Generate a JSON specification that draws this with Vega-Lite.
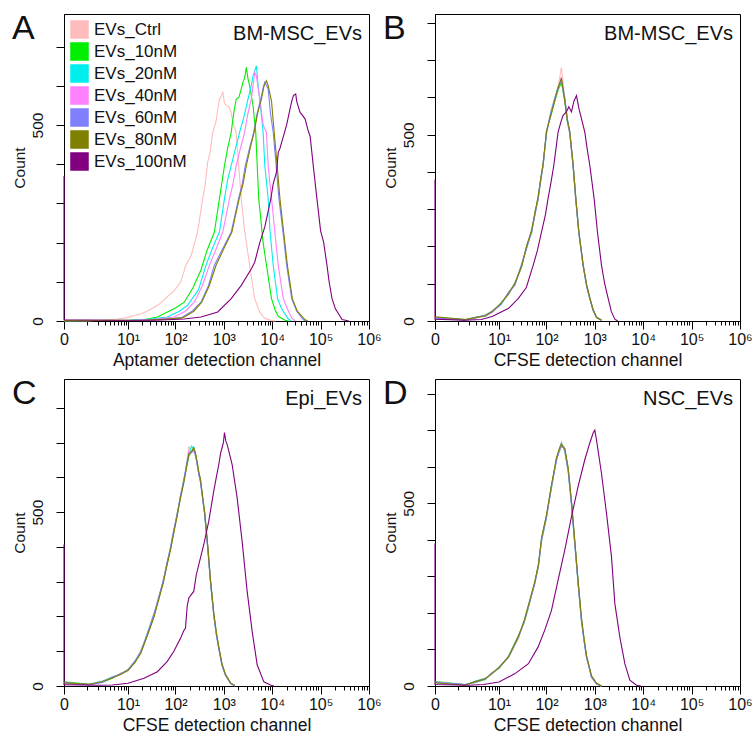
{
"$schema": "https://vega.github.io/schema/vega-lite/v6.json",
"background": "white",
"padding": {"left": 11, "top": 11, "right": 5, "bottom": 5},
"columns": 2,
"spacing": {"row": 58, "column": 66},
"bounds": "flush",
"resolve": {"scale": {"color": "independent"}, "legend": {"color": "independent"}},
"config": {
  "font": "Liberation Sans",
  "view": {"stroke": "#000", "strokeWidth": 1},
  "axis": {"domainColor": "#000", "tickColor": "#000", "labelColor": "#111", "titleColor": "#111", "grid": false, "titleFontWeight": "normal", "titleFont": "Liberation Sans", "labelFont": "Liberation Sans Narrow, Liberation Sans, sans-serif", "labelFlush": false, "labelOverlap": false},
  "axisX": {"labelFontSize": 16, "labelPadding": 2, "titleFontSize": 17.5, "titlePadding": 4},
  "axisY": {"labelFontSize": 15.5, "labelAngle": -90, "tickSize": 8, "labelPadding": 11, "titleFontSize": 15.5, "titlePadding": 3},
  "title": {"fontSize": 34, "fontWeight": "normal", "anchor": "start", "frame": "bounds", "color": "#111", "offset": 0, "dy": 36, "font": "Liberation Sans"}
},
"datasets": {
"A": [
{"s":"Ctrl","x":0,"y":2},{"s":"Ctrl","x":1,"y":1},{"s":"Ctrl","x":2.4,"y":2},{"s":"Ctrl","x":5.8,"y":5},{"s":"Ctrl","x":9,"y":8},{"s":"Ctrl","x":13.8,"y":14},{"s":"Ctrl","x":20,"y":19},{"s":"Ctrl","x":30.6,"y":30},{"s":"Ctrl","x":45,"y":42},{"s":"Ctrl","x":68,"y":62},{"s":"Ctrl","x":95,"y":78},{"s":"Ctrl","x":129,"y":100},{"s":"Ctrl","x":164,"y":142},{"s":"Ctrl","x":209,"y":165},{"s":"Ctrl","x":250,"y":200},{"s":"Ctrl","x":287,"y":227},{"s":"Ctrl","x":330,"y":275},{"s":"Ctrl","x":365,"y":312},{"s":"Ctrl","x":410,"y":345},{"s":"Ctrl","x":464,"y":405},{"s":"Ctrl","x":520,"y":430},{"s":"Ctrl","x":590,"y":481},{"s":"Ctrl","x":692,"y":510},{"s":"Ctrl","x":750,"y":540},{"s":"Ctrl","x":813,"y":566},{"s":"Ctrl","x":880,"y":572},{"s":"Ctrl","x":953,"y":585},{"s":"Ctrl","x":1030,"y":556},{"s":"Ctrl","x":1119,"y":550},{"s":"Ctrl","x":1313,"y":545},{"s":"Ctrl","x":1422,"y":530},{"s":"Ctrl","x":1580,"y":500},{"s":"Ctrl","x":1807,"y":481},{"s":"Ctrl","x":2020,"y":400},{"s":"Ctrl","x":2297,"y":312},{"s":"Ctrl","x":2695,"y":230},{"s":"Ctrl","x":3050,"y":185},{"s":"Ctrl","x":3426,"y":142},{"s":"Ctrl","x":3900,"y":95},{"s":"Ctrl","x":4356,"y":57},{"s":"Ctrl","x":5540,"y":22},{"s":"Ctrl","x":7041,"y":7},{"s":"Ctrl","x":9690,"y":1},{"s":"Ctrl","x":12000,"y":0},
{"s":"10nM","x":0,"y":1},{"s":"10nM","x":10,"y":2},{"s":"10nM","x":22,"y":3},{"s":"10nM","x":42,"y":10},{"s":"10nM","x":68,"y":23},{"s":"10nM","x":100,"y":33},{"s":"10nM","x":152,"y":48},{"s":"10nM","x":230,"y":85},{"s":"10nM","x":337,"y":130},{"s":"10nM","x":450,"y":180},{"s":"10nM","x":639,"y":227},{"s":"10nM","x":813,"y":312},{"s":"10nM","x":1032,"y":396},{"s":"10nM","x":1200,"y":440},{"s":"10nM","x":1422,"y":481},{"s":"10nM","x":1600,"y":530},{"s":"10nM","x":1807,"y":566},{"s":"10nM","x":2050,"y":570},{"s":"10nM","x":2297,"y":592},{"s":"10nM","x":2500,"y":610},{"s":"10nM","x":2695,"y":620},{"s":"10nM","x":2920,"y":647},{"s":"10nM","x":3162,"y":618},{"s":"10nM","x":3426,"y":600},{"s":"10nM","x":4020,"y":549},{"s":"10nM","x":4570,"y":481},{"s":"10nM","x":5270,"y":312},{"s":"10nM","x":6500,"y":200},{"s":"10nM","x":7620,"y":142},{"s":"10nM","x":9690,"y":57},{"s":"10nM","x":11500,"y":28},{"s":"10nM","x":13340,"y":12},{"s":"10nM","x":18370,"y":2},{"s":"10nM","x":22000,"y":0},
{"s":"20nM","x":0,"y":1},{"s":"20nM","x":12,"y":2},{"s":"20nM","x":30,"y":5},{"s":"20nM","x":68,"y":10},{"s":"20nM","x":120,"y":25},{"s":"20nM","x":178,"y":40},{"s":"20nM","x":300,"y":80},{"s":"20nM","x":428,"y":142},{"s":"20nM","x":600,"y":190},{"s":"20nM","x":813,"y":227},{"s":"20nM","x":1032,"y":312},{"s":"20nM","x":1200,"y":360},{"s":"20nM","x":1422,"y":396},{"s":"20nM","x":1750,"y":440},{"s":"20nM","x":2120,"y":481},{"s":"20nM","x":2600,"y":520},{"s":"20nM","x":3162,"y":566},{"s":"20nM","x":3700,"y":600},{"s":"20nM","x":4020,"y":625},{"s":"20nM","x":4720,"y":651},{"s":"20nM","x":5113,"y":600},{"s":"20nM","x":5540,"y":566},{"s":"20nM","x":6500,"y":481},{"s":"20nM","x":7041,"y":396},{"s":"20nM","x":8263,"y":312},{"s":"20nM","x":9000,"y":230},{"s":"20nM","x":10500,"y":142},{"s":"20nM","x":12900,"y":57},{"s":"20nM","x":15650,"y":31},{"s":"20nM","x":21550,"y":5},{"s":"20nM","x":25000,"y":0},
{"s":"40nM","x":0,"y":1},{"s":"40nM","x":15,"y":2},{"s":"40nM","x":40,"y":5},{"s":"40nM","x":94,"y":10},{"s":"40nM","x":160,"y":25},{"s":"40nM","x":245,"y":48},{"s":"40nM","x":360,"y":90},{"s":"40nM","x":502,"y":142},{"s":"40nM","x":700,"y":185},{"s":"40nM","x":953,"y":227},{"s":"40nM","x":1313,"y":312},{"s":"40nM","x":1550,"y":350},{"s":"40nM","x":1807,"y":396},{"s":"40nM","x":2200,"y":440},{"s":"40nM","x":2695,"y":481},{"s":"40nM","x":3162,"y":530},{"s":"40nM","x":3710,"y":566},{"s":"40nM","x":4020,"y":600},{"s":"40nM","x":4356,"y":634},{"s":"40nM","x":4720,"y":625},{"s":"40nM","x":5540,"y":566},{"s":"40nM","x":6500,"y":500},{"s":"40nM","x":7620,"y":481},{"s":"40nM","x":8263,"y":396},{"s":"40nM","x":9690,"y":312},{"s":"40nM","x":11500,"y":220},{"s":"40nM","x":13340,"y":142},{"s":"40nM","x":16960,"y":57},{"s":"40nM","x":19900,"y":35},{"s":"40nM","x":25290,"y":8},{"s":"40nM","x":30000,"y":0},
{"s":"60nM","x":0,"y":1},{"s":"60nM","x":20,"y":2},{"s":"60nM","x":60,"y":5},{"s":"60nM","x":129,"y":8},{"s":"60nM","x":220,"y":25},{"s":"60nM","x":337,"y":48},{"s":"60nM","x":480,"y":90},{"s":"60nM","x":639,"y":142},{"s":"60nM","x":1000,"y":190},{"s":"60nM","x":1422,"y":227},{"s":"60nM","x":2020,"y":312},{"s":"60nM","x":2400,"y":350},{"s":"60nM","x":2780,"y":396},{"s":"60nM","x":3400,"y":440},{"s":"60nM","x":4150,"y":481},{"s":"60nM","x":4900,"y":530},{"s":"60nM","x":5810,"y":566},{"s":"60nM","x":6500,"y":595},{"s":"60nM","x":7041,"y":609},{"s":"60nM","x":8263,"y":592},{"s":"60nM","x":9200,"y":530},{"s":"60nM","x":10500,"y":481},{"s":"60nM","x":12000,"y":400},{"s":"60nM","x":13770,"y":312},{"s":"60nM","x":16960,"y":220},{"s":"60nM","x":19900,"y":142},{"s":"60nM","x":25290,"y":57},{"s":"60nM","x":32150,"y":25},{"s":"60nM","x":44000,"y":3},{"s":"60nM","x":50000,"y":0},
{"s":"80nM","x":0,"y":1},{"s":"80nM","x":22,"y":2},{"s":"80nM","x":65,"y":5},{"s":"80nM","x":140,"y":8},{"s":"80nM","x":240,"y":25},{"s":"80nM","x":350,"y":48},{"s":"80nM","x":500,"y":90},{"s":"80nM","x":692,"y":142},{"s":"80nM","x":1050,"y":190},{"s":"80nM","x":1470,"y":227},{"s":"80nM","x":2080,"y":312},{"s":"80nM","x":2500,"y":350},{"s":"80nM","x":2920,"y":396},{"s":"80nM","x":3500,"y":440},{"s":"80nM","x":4230,"y":481},{"s":"80nM","x":5000,"y":530},{"s":"80nM","x":6000,"y":566},{"s":"80nM","x":6800,"y":600},{"s":"80nM","x":7620,"y":613},{"s":"80nM","x":8263,"y":600},{"s":"80nM","x":9690,"y":560},{"s":"80nM","x":11000,"y":481},{"s":"80nM","x":12600,"y":400},{"s":"80nM","x":14450,"y":312},{"s":"80nM","x":17500,"y":220},{"s":"80nM","x":20600,"y":142},{"s":"80nM","x":26100,"y":57},{"s":"80nM","x":33000,"y":25},{"s":"80nM","x":47960,"y":3},{"s":"80nM","x":55000,"y":0},
{"s":"100nM","x":0,"y":370},{"s":"100nM","x":0,"y":3},{"s":"100nM","x":5,"y":2},{"s":"100nM","x":40,"y":2},{"s":"100nM","x":152,"y":5},{"s":"100nM","x":337,"y":10},{"s":"100nM","x":750,"y":23},{"s":"100nM","x":1422,"y":57},{"s":"100nM","x":2297,"y":91},{"s":"100nM","x":3712,"y":133},{"s":"100nM","x":4356,"y":150},{"s":"100nM","x":5540,"y":200},{"s":"100nM","x":7041,"y":240},{"s":"100nM","x":8263,"y":280},{"s":"100nM","x":9380,"y":312},{"s":"100nM","x":10500,"y":350},{"s":"100nM","x":12300,"y":380},{"s":"100nM","x":13340,"y":430},{"s":"100nM","x":14450,"y":440},{"s":"100nM","x":16960,"y":470},{"s":"100nM","x":19900,"y":500},{"s":"100nM","x":23350,"y":541},{"s":"100nM","x":25290,"y":560},{"s":"100nM","x":27400,"y":575},{"s":"100nM","x":30600,"y":579},{"s":"100nM","x":32150,"y":560},{"s":"100nM","x":35000,"y":545},{"s":"100nM","x":37730,"y":532},{"s":"100nM","x":42000,"y":525},{"s":"100nM","x":47960,"y":515},{"s":"100nM","x":54000,"y":490},{"s":"100nM","x":60950,"y":470},{"s":"100nM","x":70000,"y":400},{"s":"100nM","x":83900,"y":312},{"s":"100nM","x":100000,"y":230},{"s":"100nM","x":115500,"y":201},{"s":"100nM","x":135500,"y":142},{"s":"100nM","x":150000,"y":100},{"s":"100nM","x":172200,"y":57},{"s":"100nM","x":202200,"y":31},{"s":"100nM","x":278000,"y":4},{"s":"100nM","x":383000,"y":0}
],
"B": [
{"s":"Ctrl","x":0,"y":6},{"s":"Ctrl","x":1.65,"y":2},{"s":"Ctrl","x":2.96,"y":8},{"s":"Ctrl","x":5,"y":15},{"s":"Ctrl","x":7.1,"y":27},{"s":"Ctrl","x":11,"y":44},{"s":"Ctrl","x":16.1,"y":78},{"s":"Ctrl","x":22,"y":98},{"s":"Ctrl","x":30.4,"y":155},{"s":"Ctrl","x":39,"y":196},{"s":"Ctrl","x":49,"y":245},{"s":"Ctrl","x":58,"y":285},{"s":"Ctrl","x":67,"y":335},{"s":"Ctrl","x":76,"y":378},{"s":"Ctrl","x":85,"y":425},{"s":"Ctrl","x":100,"y":500},{"s":"Ctrl","x":120,"y":560},{"s":"Ctrl","x":149,"y":600},{"s":"Ctrl","x":175,"y":630},{"s":"Ctrl","x":204,"y":681},{"s":"Ctrl","x":239,"y":600},{"s":"Ctrl","x":270,"y":545},{"s":"Ctrl","x":304,"y":500},{"s":"Ctrl","x":356,"y":410},{"s":"Ctrl","x":404,"y":320},{"s":"Ctrl","x":467,"y":235},{"s":"Ctrl","x":574,"y":145},{"s":"Ctrl","x":680,"y":90},{"s":"Ctrl","x":788,"y":58},{"s":"Ctrl","x":920,"y":28},{"s":"Ctrl","x":1082,"y":9},{"s":"Ctrl","x":1374,"y":1},
{"s":"10nM","x":0,"y":10},{"s":"10nM","x":1.65,"y":4},{"s":"10nM","x":2.96,"y":10},{"s":"10nM","x":5,"y":13},{"s":"10nM","x":7.1,"y":24},{"s":"10nM","x":11,"y":47},{"s":"10nM","x":16.1,"y":72},{"s":"10nM","x":22,"y":103},{"s":"10nM","x":30.4,"y":146},{"s":"10nM","x":39,"y":205},{"s":"10nM","x":49,"y":236},{"s":"10nM","x":58,"y":295},{"s":"10nM","x":67,"y":325},{"s":"10nM","x":76,"y":385},{"s":"10nM","x":85,"y":415},{"s":"10nM","x":100,"y":512},{"s":"10nM","x":120,"y":545},{"s":"10nM","x":149,"y":590},{"s":"10nM","x":175,"y":620},{"s":"10nM","x":204,"y":640},{"s":"10nM","x":239,"y":590},{"s":"10nM","x":270,"y":535},{"s":"10nM","x":304,"y":505},{"s":"10nM","x":356,"y":420},{"s":"10nM","x":404,"y":332},{"s":"10nM","x":467,"y":242},{"s":"10nM","x":574,"y":152},{"s":"10nM","x":680,"y":97},{"s":"10nM","x":788,"y":63},{"s":"10nM","x":920,"y":31},{"s":"10nM","x":1082,"y":11},{"s":"10nM","x":1374,"y":2},
{"s":"20nM","x":0,"y":7},{"s":"20nM","x":1.65,"y":3},{"s":"20nM","x":2.96,"y":8},{"s":"20nM","x":5,"y":16},{"s":"20nM","x":7.1,"y":26},{"s":"20nM","x":11,"y":43},{"s":"20nM","x":16.1,"y":76},{"s":"20nM","x":22,"y":99},{"s":"20nM","x":30.4,"y":152},{"s":"20nM","x":39,"y":198},{"s":"20nM","x":49,"y":242},{"s":"20nM","x":58,"y":288},{"s":"20nM","x":67,"y":331},{"s":"20nM","x":76,"y":376},{"s":"20nM","x":85,"y":421},{"s":"20nM","x":100,"y":505},{"s":"20nM","x":120,"y":553},{"s":"20nM","x":149,"y":598},{"s":"20nM","x":175,"y":628},{"s":"20nM","x":204,"y":648},{"s":"20nM","x":239,"y":598},{"s":"20nM","x":270,"y":541},{"s":"20nM","x":304,"y":509},{"s":"20nM","x":356,"y":416},{"s":"20nM","x":404,"y":327},{"s":"20nM","x":467,"y":237},{"s":"20nM","x":574,"y":148},{"s":"20nM","x":680,"y":93},{"s":"20nM","x":788,"y":60},{"s":"20nM","x":920,"y":29},{"s":"20nM","x":1082,"y":10},{"s":"20nM","x":1374,"y":2},
{"s":"40nM","x":0,"y":9},{"s":"40nM","x":1.65,"y":2},{"s":"40nM","x":2.96,"y":9},{"s":"40nM","x":5,"y":14},{"s":"40nM","x":7.1,"y":23},{"s":"40nM","x":11,"y":46},{"s":"40nM","x":16.1,"y":74},{"s":"40nM","x":22,"y":101},{"s":"40nM","x":30.4,"y":149},{"s":"40nM","x":39,"y":202},{"s":"40nM","x":49,"y":240},{"s":"40nM","x":58,"y":292},{"s":"40nM","x":67,"y":327},{"s":"40nM","x":76,"y":382},{"s":"40nM","x":85,"y":416},{"s":"40nM","x":100,"y":509},{"s":"40nM","x":120,"y":548},{"s":"40nM","x":149,"y":594},{"s":"40nM","x":175,"y":623},{"s":"40nM","x":204,"y":655},{"s":"40nM","x":239,"y":594},{"s":"40nM","x":270,"y":538},{"s":"40nM","x":304,"y":503},{"s":"40nM","x":356,"y":419},{"s":"40nM","x":404,"y":330},{"s":"40nM","x":467,"y":240},{"s":"40nM","x":574,"y":151},{"s":"40nM","x":680,"y":96},{"s":"40nM","x":788,"y":62},{"s":"40nM","x":920,"y":30},{"s":"40nM","x":1082,"y":11},{"s":"40nM","x":1374,"y":1},
{"s":"60nM","x":0,"y":8},{"s":"60nM","x":1.65,"y":3},{"s":"60nM","x":2.96,"y":10},{"s":"60nM","x":5,"y":15},{"s":"60nM","x":7.1,"y":25},{"s":"60nM","x":11,"y":45},{"s":"60nM","x":16.1,"y":77},{"s":"60nM","x":22,"y":97},{"s":"60nM","x":30.4,"y":151},{"s":"60nM","x":39,"y":199},{"s":"60nM","x":49,"y":238},{"s":"60nM","x":58,"y":289},{"s":"60nM","x":67,"y":330},{"s":"60nM","x":76,"y":379},{"s":"60nM","x":85,"y":419},{"s":"60nM","x":100,"y":506},{"s":"60nM","x":120,"y":551},{"s":"60nM","x":149,"y":597},{"s":"60nM","x":175,"y":626},{"s":"60nM","x":204,"y":645},{"s":"60nM","x":239,"y":597},{"s":"60nM","x":270,"y":542},{"s":"60nM","x":304,"y":506},{"s":"60nM","x":356,"y":417},{"s":"60nM","x":404,"y":328},{"s":"60nM","x":467,"y":238},{"s":"60nM","x":574,"y":149},{"s":"60nM","x":680,"y":94},{"s":"60nM","x":788,"y":61},{"s":"60nM","x":920,"y":29},{"s":"60nM","x":1082,"y":10},{"s":"60nM","x":1374,"y":2},
{"s":"80nM","x":0,"y":11},{"s":"80nM","x":1.65,"y":4},{"s":"80nM","x":2.96,"y":9},{"s":"80nM","x":5,"y":14},{"s":"80nM","x":7.1,"y":26},{"s":"80nM","x":11,"y":48},{"s":"80nM","x":16.1,"y":73},{"s":"80nM","x":22,"y":102},{"s":"80nM","x":30.4,"y":147},{"s":"80nM","x":39,"y":203},{"s":"80nM","x":49,"y":244},{"s":"80nM","x":58,"y":293},{"s":"80nM","x":67,"y":333},{"s":"80nM","x":76,"y":381},{"s":"80nM","x":85,"y":422},{"s":"80nM","x":100,"y":508},{"s":"80nM","x":120,"y":547},{"s":"80nM","x":149,"y":593},{"s":"80nM","x":175,"y":627},{"s":"80nM","x":204,"y":652},{"s":"80nM","x":239,"y":593},{"s":"80nM","x":270,"y":539},{"s":"80nM","x":304,"y":508},{"s":"80nM","x":356,"y":421},{"s":"80nM","x":404,"y":331},{"s":"80nM","x":467,"y":241},{"s":"80nM","x":574,"y":150},{"s":"80nM","x":680,"y":95},{"s":"80nM","x":788,"y":62},{"s":"80nM","x":920,"y":31},{"s":"80nM","x":1082,"y":10},{"s":"80nM","x":1374,"y":2},
{"s":"100nM","x":0,"y":380},{"s":"100nM","x":0,"y":5},{"s":"100nM","x":1.5,"y":2},{"s":"100nM","x":4,"y":4},{"s":"100nM","x":7.1,"y":12},{"s":"100nM","x":16.1,"y":34},{"s":"100nM","x":25.9,"y":61},{"s":"100nM","x":38,"y":90},{"s":"100nM","x":53,"y":150},{"s":"100nM","x":65,"y":190},{"s":"100nM","x":78.9,"y":239},{"s":"100nM","x":95,"y":285},{"s":"100nM","x":108,"y":329},{"s":"100nM","x":125,"y":375},{"s":"100nM","x":142,"y":418},{"s":"100nM","x":160,"y":470},{"s":"100nM","x":174,"y":507},{"s":"100nM","x":200,"y":535},{"s":"100nM","x":221,"y":552},{"s":"100nM","x":259,"y":561},{"s":"100nM","x":290,"y":575},{"s":"100nM","x":329,"y":561},{"s":"100nM","x":370,"y":590},{"s":"100nM","x":418,"y":605},{"s":"100nM","x":470,"y":570},{"s":"100nM","x":530,"y":543},{"s":"100nM","x":621,"y":507},{"s":"100nM","x":700,"y":460},{"s":"100nM","x":788,"y":418},{"s":"100nM","x":968,"y":329},{"s":"100nM","x":1135,"y":239},{"s":"100nM","x":1374,"y":150},{"s":"100nM","x":1600,"y":100},{"s":"100nM","x":1888,"y":61},{"s":"100nM","x":2200,"y":25},{"s":"100nM","x":2593,"y":5},{"s":"100nM","x":3000,"y":0}
],
"C": [
{"s":"Ctrl","x":0,"y":8},{"s":"Ctrl","x":1.14,"y":3},{"s":"Ctrl","x":2.6,"y":13},{"s":"Ctrl","x":4.5,"y":27},{"s":"Ctrl","x":7,"y":33},{"s":"Ctrl","x":10,"y":48},{"s":"Ctrl","x":14,"y":72},{"s":"Ctrl","x":18.9,"y":96},{"s":"Ctrl","x":26,"y":152},{"s":"Ctrl","x":35.6,"y":210},{"s":"Ctrl","x":45,"y":250},{"s":"Ctrl","x":55.6,"y":305},{"s":"Ctrl","x":66,"y":345},{"s":"Ctrl","x":79,"y":400},{"s":"Ctrl","x":92,"y":450},{"s":"Ctrl","x":108,"y":490},{"s":"Ctrl","x":127,"y":550},{"s":"Ctrl","x":149,"y":588},{"s":"Ctrl","x":170,"y":640},{"s":"Ctrl","x":189,"y":690},{"s":"Ctrl","x":215,"y":670},{"s":"Ctrl","x":239,"y":676},{"s":"Ctrl","x":260,"y":660},{"s":"Ctrl","x":281,"y":645},{"s":"Ctrl","x":305,"y":605},{"s":"Ctrl","x":329,"y":585},{"s":"Ctrl","x":365,"y":545},{"s":"Ctrl","x":404,"y":490},{"s":"Ctrl","x":467,"y":392},{"s":"Ctrl","x":530,"y":298},{"s":"Ctrl","x":621,"y":200},{"s":"Ctrl","x":700,"y":147},{"s":"Ctrl","x":788,"y":106},{"s":"Ctrl","x":920,"y":58},{"s":"Ctrl","x":1082,"y":30},{"s":"Ctrl","x":1374,"y":7},{"s":"Ctrl","x":1700,"y":1},
{"s":"10nM","x":0,"y":12},{"s":"10nM","x":1.14,"y":5},{"s":"10nM","x":2.6,"y":11},{"s":"10nM","x":4.5,"y":22},{"s":"10nM","x":7,"y":37},{"s":"10nM","x":10,"y":45},{"s":"10nM","x":14,"y":68},{"s":"10nM","x":18.9,"y":102},{"s":"10nM","x":26,"y":147},{"s":"10nM","x":35.6,"y":200},{"s":"10nM","x":45,"y":258},{"s":"10nM","x":55.6,"y":298},{"s":"10nM","x":66,"y":352},{"s":"10nM","x":79,"y":395},{"s":"10nM","x":92,"y":442},{"s":"10nM","x":108,"y":496},{"s":"10nM","x":127,"y":540},{"s":"10nM","x":149,"y":594},{"s":"10nM","x":170,"y":630},{"s":"10nM","x":189,"y":660},{"s":"10nM","x":215,"y":675},{"s":"10nM","x":239,"y":684},{"s":"10nM","x":260,"y":668},{"s":"10nM","x":281,"y":636},{"s":"10nM","x":305,"y":612},{"s":"10nM","x":329,"y":594},{"s":"10nM","x":365,"y":538},{"s":"10nM","x":404,"y":496},{"s":"10nM","x":467,"y":400},{"s":"10nM","x":530,"y":305},{"s":"10nM","x":621,"y":208},{"s":"10nM","x":700,"y":152},{"s":"10nM","x":788,"y":111},{"s":"10nM","x":920,"y":62},{"s":"10nM","x":1082,"y":33},{"s":"10nM","x":1374,"y":9},{"s":"10nM","x":1700,"y":1},
{"s":"20nM","x":0,"y":9},{"s":"20nM","x":1.14,"y":4},{"s":"20nM","x":2.6,"y":14},{"s":"20nM","x":4.5,"y":26},{"s":"20nM","x":7,"y":34},{"s":"20nM","x":10,"y":47},{"s":"20nM","x":14,"y":71},{"s":"20nM","x":18.9,"y":98},{"s":"20nM","x":26,"y":153},{"s":"20nM","x":35.6,"y":207},{"s":"20nM","x":45,"y":253},{"s":"20nM","x":55.6,"y":303},{"s":"20nM","x":66,"y":348},{"s":"20nM","x":79,"y":399},{"s":"20nM","x":92,"y":447},{"s":"20nM","x":108,"y":491},{"s":"20nM","x":127,"y":547},{"s":"20nM","x":149,"y":592},{"s":"20nM","x":170,"y":637},{"s":"20nM","x":189,"y":668},{"s":"20nM","x":215,"y":690},{"s":"20nM","x":239,"y":682},{"s":"20nM","x":260,"y":664},{"s":"20nM","x":281,"y":642},{"s":"20nM","x":305,"y":608},{"s":"20nM","x":329,"y":588},{"s":"20nM","x":365,"y":542},{"s":"20nM","x":404,"y":491},{"s":"20nM","x":467,"y":395},{"s":"20nM","x":530,"y":300},{"s":"20nM","x":621,"y":204},{"s":"20nM","x":700,"y":149},{"s":"20nM","x":788,"y":108},{"s":"20nM","x":920,"y":59},{"s":"20nM","x":1082,"y":31},{"s":"20nM","x":1374,"y":8},{"s":"20nM","x":1700,"y":0},
{"s":"40nM","x":0,"y":11},{"s":"40nM","x":1.14,"y":3},{"s":"40nM","x":2.6,"y":12},{"s":"40nM","x":4.5,"y":24},{"s":"40nM","x":7,"y":36},{"s":"40nM","x":10,"y":44},{"s":"40nM","x":14,"y":69},{"s":"40nM","x":18.9,"y":100},{"s":"40nM","x":26,"y":148},{"s":"40nM","x":35.6,"y":203},{"s":"40nM","x":45,"y":256},{"s":"40nM","x":55.6,"y":300},{"s":"40nM","x":66,"y":351},{"s":"40nM","x":79,"y":396},{"s":"40nM","x":92,"y":444},{"s":"40nM","x":108,"y":494},{"s":"40nM","x":127,"y":543},{"s":"40nM","x":149,"y":589},{"s":"40nM","x":170,"y":633},{"s":"40nM","x":189,"y":675},{"s":"40nM","x":215,"y":671},{"s":"40nM","x":239,"y":678},{"s":"40nM","x":260,"y":667},{"s":"40nM","x":281,"y":638},{"s":"40nM","x":305,"y":611},{"s":"40nM","x":329,"y":591},{"s":"40nM","x":365,"y":539},{"s":"40nM","x":404,"y":494},{"s":"40nM","x":467,"y":398},{"s":"40nM","x":530,"y":303},{"s":"40nM","x":621,"y":206},{"s":"40nM","x":700,"y":151},{"s":"40nM","x":788,"y":110},{"s":"40nM","x":920,"y":61},{"s":"40nM","x":1082,"y":32},{"s":"40nM","x":1374,"y":8},{"s":"40nM","x":1700,"y":1},
{"s":"60nM","x":0,"y":10},{"s":"60nM","x":1.14,"y":4},{"s":"60nM","x":2.6,"y":10},{"s":"60nM","x":4.5,"y":25},{"s":"60nM","x":7,"y":35},{"s":"60nM","x":10,"y":46},{"s":"60nM","x":14,"y":70},{"s":"60nM","x":18.9,"y":97},{"s":"60nM","x":26,"y":151},{"s":"60nM","x":35.6,"y":206},{"s":"60nM","x":45,"y":254},{"s":"60nM","x":55.6,"y":302},{"s":"60nM","x":66,"y":349},{"s":"60nM","x":79,"y":398},{"s":"60nM","x":92,"y":446},{"s":"60nM","x":108,"y":492},{"s":"60nM","x":127,"y":546},{"s":"60nM","x":149,"y":591},{"s":"60nM","x":170,"y":636},{"s":"60nM","x":189,"y":664},{"s":"60nM","x":215,"y":673},{"s":"60nM","x":239,"y":680},{"s":"60nM","x":260,"y":665},{"s":"60nM","x":281,"y":641},{"s":"60nM","x":305,"y":609},{"s":"60nM","x":329,"y":589},{"s":"60nM","x":365,"y":541},{"s":"60nM","x":404,"y":492},{"s":"60nM","x":467,"y":396},{"s":"60nM","x":530,"y":301},{"s":"60nM","x":621,"y":205},{"s":"60nM","x":700,"y":150},{"s":"60nM","x":788,"y":109},{"s":"60nM","x":920,"y":60},{"s":"60nM","x":1082,"y":32},{"s":"60nM","x":1374,"y":8},{"s":"60nM","x":1700,"y":1},
{"s":"80nM","x":0,"y":9},{"s":"80nM","x":1.14,"y":5},{"s":"80nM","x":2.6,"y":13},{"s":"80nM","x":4.5,"y":23},{"s":"80nM","x":7,"y":34},{"s":"80nM","x":10,"y":45},{"s":"80nM","x":14,"y":67},{"s":"80nM","x":18.9,"y":95},{"s":"80nM","x":26,"y":146},{"s":"80nM","x":35.6,"y":198},{"s":"80nM","x":45,"y":250},{"s":"80nM","x":55.6,"y":296},{"s":"80nM","x":66,"y":345},{"s":"80nM","x":79,"y":392},{"s":"80nM","x":92,"y":440},{"s":"80nM","x":108,"y":488},{"s":"80nM","x":127,"y":541},{"s":"80nM","x":149,"y":585},{"s":"80nM","x":170,"y":630},{"s":"80nM","x":189,"y":668},{"s":"80nM","x":215,"y":674},{"s":"80nM","x":239,"y":686},{"s":"80nM","x":260,"y":670},{"s":"80nM","x":281,"y":645},{"s":"80nM","x":305,"y":615},{"s":"80nM","x":329,"y":595},{"s":"80nM","x":365,"y":545},{"s":"80nM","x":404,"y":498},{"s":"80nM","x":467,"y":402},{"s":"80nM","x":530,"y":306},{"s":"80nM","x":621,"y":210},{"s":"80nM","x":700,"y":155},{"s":"80nM","x":788,"y":112},{"s":"80nM","x":920,"y":63},{"s":"80nM","x":1082,"y":34},{"s":"80nM","x":1374,"y":9},{"s":"80nM","x":1700,"y":1},
{"s":"100nM","x":0,"y":407},{"s":"100nM","x":0,"y":4},{"s":"100nM","x":2,"y":2},{"s":"100nM","x":4.5,"y":3},{"s":"100nM","x":10,"y":8},{"s":"100nM","x":22,"y":22},{"s":"100nM","x":42,"y":41},{"s":"100nM","x":67,"y":70},{"s":"100nM","x":92,"y":99},{"s":"100nM","x":127,"y":137},{"s":"100nM","x":150,"y":160},{"s":"100nM","x":161,"y":166},{"s":"100nM","x":175,"y":230},{"s":"100nM","x":189,"y":253},{"s":"100nM","x":239,"y":272},{"s":"100nM","x":270,"y":320},{"s":"100nM","x":304,"y":349},{"s":"100nM","x":386,"y":407},{"s":"100nM","x":489,"y":474},{"s":"100nM","x":621,"y":561},{"s":"100nM","x":700,"y":600},{"s":"100nM","x":788,"y":637},{"s":"100nM","x":860,"y":670},{"s":"100nM","x":924,"y":686},{"s":"100nM","x":980,"y":700},{"s":"100nM","x":1033,"y":729},{"s":"100nM","x":1100,"y":705},{"s":"100nM","x":1173,"y":695},{"s":"100nM","x":1300,"y":670},{"s":"100nM","x":1487,"y":637},{"s":"100nM","x":1888,"y":541},{"s":"100nM","x":2393,"y":416},{"s":"100nM","x":3040,"y":272},{"s":"100nM","x":3857,"y":157},{"s":"100nM","x":4895,"y":61},{"s":"100nM","x":6724,"y":12},{"s":"100nM","x":9237,"y":3},{"s":"100nM","x":10820,"y":0}
],
"D": [
{"s":"Ctrl","x":0,"y":8},{"s":"Ctrl","x":1.58,"y":2},{"s":"Ctrl","x":2.85,"y":12},{"s":"Ctrl","x":5,"y":22},{"s":"Ctrl","x":6.9,"y":32},{"s":"Ctrl","x":10,"y":52},{"s":"Ctrl","x":16,"y":78},{"s":"Ctrl","x":26,"y":130},{"s":"Ctrl","x":34,"y":178},{"s":"Ctrl","x":42,"y":220},{"s":"Ctrl","x":57,"y":278},{"s":"Ctrl","x":68,"y":335},{"s":"Ctrl","x":79,"y":395},{"s":"Ctrl","x":100,"y":460},{"s":"Ctrl","x":127,"y":550},{"s":"Ctrl","x":161,"y":615},{"s":"Ctrl","x":185,"y":650},{"s":"Ctrl","x":204,"y":668},{"s":"Ctrl","x":239,"y":640},{"s":"Ctrl","x":281,"y":585},{"s":"Ctrl","x":329,"y":495},{"s":"Ctrl","x":386,"y":385},{"s":"Ctrl","x":452,"y":276},{"s":"Ctrl","x":530,"y":176},{"s":"Ctrl","x":600,"y":122},{"s":"Ctrl","x":673,"y":78},{"s":"Ctrl","x":854,"y":23},{"s":"Ctrl","x":1082,"y":5},{"s":"Ctrl","x":1374,"y":0},
{"s":"10nM","x":0,"y":12},{"s":"10nM","x":1.58,"y":4},{"s":"10nM","x":2.85,"y":10},{"s":"10nM","x":5,"y":18},{"s":"10nM","x":6.9,"y":36},{"s":"10nM","x":10,"y":48},{"s":"10nM","x":16,"y":82},{"s":"10nM","x":26,"y":138},{"s":"10nM","x":34,"y":172},{"s":"10nM","x":42,"y":214},{"s":"10nM","x":57,"y":284},{"s":"10nM","x":68,"y":326},{"s":"10nM","x":79,"y":404},{"s":"10nM","x":100,"y":466},{"s":"10nM","x":127,"y":542},{"s":"10nM","x":161,"y":622},{"s":"10nM","x":185,"y":642},{"s":"10nM","x":204,"y":655},{"s":"10nM","x":239,"y":650},{"s":"10nM","x":281,"y":596},{"s":"10nM","x":329,"y":505},{"s":"10nM","x":386,"y":395},{"s":"10nM","x":452,"y":286},{"s":"10nM","x":530,"y":184},{"s":"10nM","x":600,"y":128},{"s":"10nM","x":673,"y":82},{"s":"10nM","x":854,"y":27},{"s":"10nM","x":1082,"y":7},{"s":"10nM","x":1374,"y":0},
{"s":"20nM","x":0,"y":9},{"s":"20nM","x":1.58,"y":3},{"s":"20nM","x":2.85,"y":13},{"s":"20nM","x":5,"y":21},{"s":"20nM","x":6.9,"y":33},{"s":"20nM","x":10,"y":51},{"s":"20nM","x":16,"y":79},{"s":"20nM","x":26,"y":133},{"s":"20nM","x":34,"y":176},{"s":"20nM","x":42,"y":219},{"s":"20nM","x":57,"y":280},{"s":"20nM","x":68,"y":332},{"s":"20nM","x":79,"y":398},{"s":"20nM","x":100,"y":462},{"s":"20nM","x":127,"y":548},{"s":"20nM","x":161,"y":617},{"s":"20nM","x":185,"y":648},{"s":"20nM","x":204,"y":664},{"s":"20nM","x":239,"y":644},{"s":"20nM","x":281,"y":589},{"s":"20nM","x":329,"y":498},{"s":"20nM","x":386,"y":388},{"s":"20nM","x":452,"y":279},{"s":"20nM","x":530,"y":178},{"s":"20nM","x":600,"y":124},{"s":"20nM","x":673,"y":79},{"s":"20nM","x":854,"y":24},{"s":"20nM","x":1082,"y":6},{"s":"20nM","x":1374,"y":0},
{"s":"40nM","x":0,"y":11},{"s":"40nM","x":1.58,"y":3},{"s":"40nM","x":2.85,"y":11},{"s":"40nM","x":5,"y":19},{"s":"40nM","x":6.9,"y":35},{"s":"40nM","x":10,"y":49},{"s":"40nM","x":16,"y":81},{"s":"40nM","x":26,"y":135},{"s":"40nM","x":34,"y":174},{"s":"40nM","x":42,"y":216},{"s":"40nM","x":57,"y":282},{"s":"40nM","x":68,"y":328},{"s":"40nM","x":79,"y":402},{"s":"40nM","x":100,"y":465},{"s":"40nM","x":127,"y":544},{"s":"40nM","x":161,"y":620},{"s":"40nM","x":185,"y":643},{"s":"40nM","x":204,"y":658},{"s":"40nM","x":239,"y":648},{"s":"40nM","x":281,"y":593},{"s":"40nM","x":329,"y":502},{"s":"40nM","x":386,"y":392},{"s":"40nM","x":452,"y":283},{"s":"40nM","x":530,"y":182},{"s":"40nM","x":600,"y":126},{"s":"40nM","x":673,"y":81},{"s":"40nM","x":854,"y":26},{"s":"40nM","x":1082,"y":6},{"s":"40nM","x":1374,"y":0},
{"s":"60nM","x":0,"y":10},{"s":"60nM","x":1.58,"y":4},{"s":"60nM","x":2.85,"y":10},{"s":"60nM","x":5,"y":20},{"s":"60nM","x":6.9,"y":34},{"s":"60nM","x":10,"y":50},{"s":"60nM","x":16,"y":80},{"s":"60nM","x":26,"y":134},{"s":"60nM","x":34,"y":175},{"s":"60nM","x":42,"y":217},{"s":"60nM","x":57,"y":281},{"s":"60nM","x":68,"y":330},{"s":"60nM","x":79,"y":400},{"s":"60nM","x":100,"y":463},{"s":"60nM","x":127,"y":546},{"s":"60nM","x":161,"y":619},{"s":"60nM","x":185,"y":645},{"s":"60nM","x":204,"y":660},{"s":"60nM","x":239,"y":646},{"s":"60nM","x":281,"y":591},{"s":"60nM","x":329,"y":500},{"s":"60nM","x":386,"y":390},{"s":"60nM","x":452,"y":281},{"s":"60nM","x":530,"y":180},{"s":"60nM","x":600,"y":125},{"s":"60nM","x":673,"y":80},{"s":"60nM","x":854,"y":25},{"s":"60nM","x":1082,"y":6},{"s":"60nM","x":1374,"y":0},
{"s":"80nM","x":0,"y":9},{"s":"80nM","x":1.58,"y":2},{"s":"80nM","x":2.85,"y":12},{"s":"80nM","x":5,"y":20},{"s":"80nM","x":6.9,"y":33},{"s":"80nM","x":10,"y":51},{"s":"80nM","x":16,"y":79},{"s":"80nM","x":26,"y":136},{"s":"80nM","x":34,"y":177},{"s":"80nM","x":42,"y":221},{"s":"80nM","x":57,"y":285},{"s":"80nM","x":68,"y":333},{"s":"80nM","x":79,"y":405},{"s":"80nM","x":100,"y":468},{"s":"80nM","x":127,"y":550},{"s":"80nM","x":161,"y":625},{"s":"80nM","x":185,"y":650},{"s":"80nM","x":204,"y":662},{"s":"80nM","x":239,"y":650},{"s":"80nM","x":281,"y":597},{"s":"80nM","x":329,"y":506},{"s":"80nM","x":386,"y":396},{"s":"80nM","x":452,"y":287},{"s":"80nM","x":530,"y":186},{"s":"80nM","x":600,"y":130},{"s":"80nM","x":673,"y":84},{"s":"80nM","x":854,"y":28},{"s":"80nM","x":1082,"y":8},{"s":"80nM","x":1374,"y":0},
{"s":"100nM","x":0,"y":390},{"s":"100nM","x":0,"y":4},{"s":"100nM","x":2,"y":2},{"s":"100nM","x":4.5,"y":4},{"s":"100nM","x":10,"y":11},{"s":"100nM","x":22,"y":34},{"s":"100nM","x":42,"y":61},{"s":"100nM","x":67,"y":107},{"s":"100nM","x":92,"y":153},{"s":"100nM","x":127,"y":207},{"s":"100nM","x":174,"y":290},{"s":"100nM","x":239,"y":372},{"s":"100nM","x":329,"y":463},{"s":"100nM","x":452,"y":546},{"s":"100nM","x":621,"y":619},{"s":"100nM","x":788,"y":665},{"s":"100nM","x":924,"y":692},{"s":"100nM","x":1000,"y":700},{"s":"100nM","x":1082,"y":674},{"s":"100nM","x":1374,"y":582},{"s":"100nM","x":1743,"y":473},{"s":"100nM","x":2213,"y":354},{"s":"100nM","x":2593,"y":226},{"s":"100nM","x":3290,"y":134},{"s":"100nM","x":4178,"y":61},{"s":"100nM","x":5299,"y":16},{"s":"100nM","x":7282,"y":2},{"s":"100nM","x":9000,"y":0}
]
},
"concat": [
{
  "width": 305, "height": 307,
  "title": {"text": "A"},
  "data": {"name": "A"},
  "layer": [
    {"mark": {"type": "point", "shape": "square", "filled": true, "opacity": 0},
     "encoding": {
       "x": {"field": "x", "type": "quantitative", "title": "Aptamer detection channel",
         "scale": {"type": "symlog", "constant": 0.5, "domain": [0, 1000000], "nice": false, "zero": false},
         "axis": {"values": [0,1,2,3,4,5,6,7,8,9,10,20,30,40,50,60,70,80,90,100,200,300,400,500,600,700,800,900,1000,2000,3000,4000,5000,6000,7000,8000,9000,10000,20000,30000,40000,50000,60000,70000,80000,90000,100000,200000,300000,400000,500000,600000,700000,800000,900000,1000000],
           "labelExpr": "datum.value==0?'0':datum.value==10?'10¹':datum.value==100?'10²':datum.value==1000?'10³':datum.value==10000?'10⁴':datum.value==100000?'10⁵':datum.value==1000000?'10⁶':''",
           "tickSize": {"condition": {"test": "datum.value==0||datum.value==10||datum.value==100||datum.value==1000||datum.value==10000||datum.value==100000||datum.value==1000000", "value": 8}, "value": 4}}},
       "y": {"field": "y", "type": "quantitative", "title": "Count",
         "scale": {"domain": [0, 783], "nice": false},
         "axis": {"values": [0,100,200,300,400,500,600,700], "labelExpr": "datum.value==0||datum.value==500?datum.label:''"}},
       "color": {"field": "s", "type": "nominal",
       "scale": {"domain": ["Ctrl","10nM","20nM","40nM","60nM","80nM","100nM"], "range": ["#ffbcbc","#00ee00","#00eeee","#ff80ff","#8080ff","#808000","#800080"]},
       "legend": {"orient": "top-left", "offset": 6, "padding": 0, "title": null, "symbolType": "square", "symbolSize": 290, "symbolStrokeColor": "#333", "symbolStrokeWidth": 1.5, "symbolOpacity": 1, "labelFontSize": 17, "labelFont": "Liberation Sans", "labelColor": "#111", "labelOffset": 5, "rowPadding": -3, "labelExpr": "'EVs_' + datum.label",
         "encode": {"symbols": {"update": {"stroke": {"value": "#333"}, "strokeWidth": {"value": 1.5}}}}}}}},
    {"mark": {"type": "line", "strokeWidth": 1.1},
     "encoding": {
       "x": {"field": "x", "type": "quantitative", "title": "Aptamer detection channel",
         "scale": {"type": "symlog", "constant": 0.5, "domain": [0, 1000000], "nice": false, "zero": false},
         "axis": {"values": [0,1,2,3,4,5,6,7,8,9,10,20,30,40,50,60,70,80,90,100,200,300,400,500,600,700,800,900,1000,2000,3000,4000,5000,6000,7000,8000,9000,10000,20000,30000,40000,50000,60000,70000,80000,90000,100000,200000,300000,400000,500000,600000,700000,800000,900000,1000000],
           "labelExpr": "datum.value==0?'0':datum.value==10?'10¹':datum.value==100?'10²':datum.value==1000?'10³':datum.value==10000?'10⁴':datum.value==100000?'10⁵':datum.value==1000000?'10⁶':''",
           "tickSize": {"condition": {"test": "datum.value==0||datum.value==10||datum.value==100||datum.value==1000||datum.value==10000||datum.value==100000||datum.value==1000000", "value": 8}, "value": 4}}},
       "y": {"field": "y", "type": "quantitative", "title": "Count",
         "scale": {"domain": [0, 783], "nice": false},
         "axis": {"values": [0,100,200,300,400,500,600,700], "labelExpr": "datum.value==0||datum.value==500?datum.label:''"}},
       "color": {"field": "s", "type": "nominal", "scale": {"domain": ["Ctrl","10nM","20nM","40nM","60nM","80nM","100nM"], "range": ["#ffbcbc","#00ee00","#00eeee","#ff80ff","#8080ff","#808000","#800080"]}, "legend": null},
       "order": {"value": null}}},
    {"data": {"values": [{"t": "BM-MSC_EVs"}]},
     "mark": {"type": "text", "align": "right", "baseline": "top", "dx": -7, "dy": 10, "fontSize": 20, "font": "Liberation Sans", "color": "#111"},
     "encoding": {
       "x": {"datum": 1000000, "type": "quantitative", "title": "Aptamer detection channel",
         "scale": {"type": "symlog", "constant": 0.5, "domain": [0, 1000000], "nice": false, "zero": false},
         "axis": {"values": [0,1,2,3,4,5,6,7,8,9,10,20,30,40,50,60,70,80,90,100,200,300,400,500,600,700,800,900,1000,2000,3000,4000,5000,6000,7000,8000,9000,10000,20000,30000,40000,50000,60000,70000,80000,90000,100000,200000,300000,400000,500000,600000,700000,800000,900000,1000000],
           "labelExpr": "datum.value==0?'0':datum.value==10?'10¹':datum.value==100?'10²':datum.value==1000?'10³':datum.value==10000?'10⁴':datum.value==100000?'10⁵':datum.value==1000000?'10⁶':''",
           "tickSize": {"condition": {"test": "datum.value==0||datum.value==10||datum.value==100||datum.value==1000||datum.value==10000||datum.value==100000||datum.value==1000000", "value": 8}, "value": 4}}},
       "y": {"datum": 783, "type": "quantitative", "title": "Count",
         "scale": {"domain": [0, 783], "nice": false},
         "axis": {"values": [0,100,200,300,400,500,600,700], "labelExpr": "datum.value==0||datum.value==500?datum.label:''"}},
       "text": {"field": "t"}}}
  ]
},
{
  "width": 305, "height": 307,
  "title": {"text": "B"},
  "data": {"name": "B"},
  "layer": [
    {"mark": {"type": "line", "strokeWidth": 1.1},
     "encoding": {
       "x": {"field": "x", "type": "quantitative", "title": "CFSE detection channel",
         "scale": {"type": "symlog", "constant": 0.5, "domain": [0, 1000000], "nice": false, "zero": false},
         "axis": {"values": [0,1,2,3,4,5,6,7,8,9,10,20,30,40,50,60,70,80,90,100,200,300,400,500,600,700,800,900,1000,2000,3000,4000,5000,6000,7000,8000,9000,10000,20000,30000,40000,50000,60000,70000,80000,90000,100000,200000,300000,400000,500000,600000,700000,800000,900000,1000000],
           "labelExpr": "datum.value==0?'0':datum.value==10?'10¹':datum.value==100?'10²':datum.value==1000?'10³':datum.value==10000?'10⁴':datum.value==100000?'10⁵':datum.value==1000000?'10⁶':''",
           "tickSize": {"condition": {"test": "datum.value==0||datum.value==10||datum.value==100||datum.value==1000||datum.value==10000||datum.value==100000||datum.value==1000000", "value": 8}, "value": 4}}},
       "y": {"field": "y", "type": "quantitative", "title": "Count",
         "scale": {"domain": [0, 824], "nice": false},
         "axis": {"values": [0,100,200,300,400,500,600,700,800], "labelExpr": "datum.value==0||datum.value==500?datum.label:''"}},
       "color": {"field": "s", "type": "nominal", "scale": {"domain": ["Ctrl","10nM","20nM","40nM","60nM","80nM","100nM"], "range": ["#ffbcbc","#00ee00","#00eeee","#ff80ff","#8080ff","#808000","#800080"]}, "legend": null},
       "order": {"value": null}}},
    {"data": {"values": [{"t": "BM-MSC_EVs"}]},
     "mark": {"type": "text", "align": "right", "baseline": "top", "dx": -7, "dy": 10, "fontSize": 20, "font": "Liberation Sans", "color": "#111"},
     "encoding": {
       "x": {"datum": 1000000, "type": "quantitative", "title": "CFSE detection channel",
         "scale": {"type": "symlog", "constant": 0.5, "domain": [0, 1000000], "nice": false, "zero": false},
         "axis": {"values": [0,1,2,3,4,5,6,7,8,9,10,20,30,40,50,60,70,80,90,100,200,300,400,500,600,700,800,900,1000,2000,3000,4000,5000,6000,7000,8000,9000,10000,20000,30000,40000,50000,60000,70000,80000,90000,100000,200000,300000,400000,500000,600000,700000,800000,900000,1000000],
           "labelExpr": "datum.value==0?'0':datum.value==10?'10¹':datum.value==100?'10²':datum.value==1000?'10³':datum.value==10000?'10⁴':datum.value==100000?'10⁵':datum.value==1000000?'10⁶':''",
           "tickSize": {"condition": {"test": "datum.value==0||datum.value==10||datum.value==100||datum.value==1000||datum.value==10000||datum.value==100000||datum.value==1000000", "value": 8}, "value": 4}}},
       "y": {"datum": 824, "type": "quantitative", "title": "Count",
         "scale": {"domain": [0, 824], "nice": false},
         "axis": {"values": [0,100,200,300,400,500,600,700,800], "labelExpr": "datum.value==0||datum.value==500?datum.label:''"}},
       "text": {"field": "t"}}}
  ]
},
{
  "width": 305, "height": 307,
  "title": {"text": "C"},
  "data": {"name": "C"},
  "layer": [
    {"mark": {"type": "line", "strokeWidth": 1.1},
     "encoding": {
       "x": {"field": "x", "type": "quantitative", "title": "CFSE detection channel",
         "scale": {"type": "symlog", "constant": 0.5, "domain": [0, 1000000], "nice": false, "zero": false},
         "axis": {"values": [0,1,2,3,4,5,6,7,8,9,10,20,30,40,50,60,70,80,90,100,200,300,400,500,600,700,800,900,1000,2000,3000,4000,5000,6000,7000,8000,9000,10000,20000,30000,40000,50000,60000,70000,80000,90000,100000,200000,300000,400000,500000,600000,700000,800000,900000,1000000],
           "labelExpr": "datum.value==0?'0':datum.value==10?'10¹':datum.value==100?'10²':datum.value==1000?'10³':datum.value==10000?'10⁴':datum.value==100000?'10⁵':datum.value==1000000?'10⁶':''",
           "tickSize": {"condition": {"test": "datum.value==0||datum.value==10||datum.value==100||datum.value==1000||datum.value==10000||datum.value==100000||datum.value==1000000", "value": 8}, "value": 4}}},
       "y": {"field": "y", "type": "quantitative", "title": "Count",
         "scale": {"domain": [0, 883], "nice": false},
         "axis": {"values": [0,100,200,300,400,500,600,700,800], "labelExpr": "datum.value==0||datum.value==500?datum.label:''"}},
       "color": {"field": "s", "type": "nominal", "scale": {"domain": ["Ctrl","10nM","20nM","40nM","60nM","80nM","100nM"], "range": ["#ffbcbc","#00ee00","#00eeee","#ff80ff","#8080ff","#808000","#800080"]}, "legend": null},
       "order": {"value": null}}},
    {"data": {"values": [{"t": "Epi_EVs"}]},
     "mark": {"type": "text", "align": "right", "baseline": "top", "dx": -7, "dy": 10, "fontSize": 20, "font": "Liberation Sans", "color": "#111"},
     "encoding": {
       "x": {"datum": 1000000, "type": "quantitative", "title": "CFSE detection channel",
         "scale": {"type": "symlog", "constant": 0.5, "domain": [0, 1000000], "nice": false, "zero": false},
         "axis": {"values": [0,1,2,3,4,5,6,7,8,9,10,20,30,40,50,60,70,80,90,100,200,300,400,500,600,700,800,900,1000,2000,3000,4000,5000,6000,7000,8000,9000,10000,20000,30000,40000,50000,60000,70000,80000,90000,100000,200000,300000,400000,500000,600000,700000,800000,900000,1000000],
           "labelExpr": "datum.value==0?'0':datum.value==10?'10¹':datum.value==100?'10²':datum.value==1000?'10³':datum.value==10000?'10⁴':datum.value==100000?'10⁵':datum.value==1000000?'10⁶':''",
           "tickSize": {"condition": {"test": "datum.value==0||datum.value==10||datum.value==100||datum.value==1000||datum.value==10000||datum.value==100000||datum.value==1000000", "value": 8}, "value": 4}}},
       "y": {"datum": 883, "type": "quantitative", "title": "Count",
         "scale": {"domain": [0, 883], "nice": false},
         "axis": {"values": [0,100,200,300,400,500,600,700,800], "labelExpr": "datum.value==0||datum.value==500?datum.label:''"}},
       "text": {"field": "t"}}}
  ]
},
{
  "width": 305, "height": 307,
  "title": {"text": "D"},
  "data": {"name": "D"},
  "layer": [
    {"mark": {"type": "line", "strokeWidth": 1.1},
     "encoding": {
       "x": {"field": "x", "type": "quantitative", "title": "CFSE detection channel",
         "scale": {"type": "symlog", "constant": 0.5, "domain": [0, 1000000], "nice": false, "zero": false},
         "axis": {"values": [0,1,2,3,4,5,6,7,8,9,10,20,30,40,50,60,70,80,90,100,200,300,400,500,600,700,800,900,1000,2000,3000,4000,5000,6000,7000,8000,9000,10000,20000,30000,40000,50000,60000,70000,80000,90000,100000,200000,300000,400000,500000,600000,700000,800000,900000,1000000],
           "labelExpr": "datum.value==0?'0':datum.value==10?'10¹':datum.value==100?'10²':datum.value==1000?'10³':datum.value==10000?'10⁴':datum.value==100000?'10⁵':datum.value==1000000?'10⁶':''",
           "tickSize": {"condition": {"test": "datum.value==0||datum.value==10||datum.value==100||datum.value==1000||datum.value==10000||datum.value==100000||datum.value==1000000", "value": 8}, "value": 4}}},
       "y": {"field": "y", "type": "quantitative", "title": "Count",
         "scale": {"domain": [0, 840], "nice": false},
         "axis": {"values": [0,100,200,300,400,500,600,700,800], "labelExpr": "datum.value==0||datum.value==500?datum.label:''"}},
       "color": {"field": "s", "type": "nominal", "scale": {"domain": ["Ctrl","10nM","20nM","40nM","60nM","80nM","100nM"], "range": ["#ffbcbc","#00ee00","#00eeee","#ff80ff","#8080ff","#808000","#800080"]}, "legend": null},
       "order": {"value": null}}},
    {"data": {"values": [{"t": "NSC_EVs"}]},
     "mark": {"type": "text", "align": "right", "baseline": "top", "dx": -7, "dy": 10, "fontSize": 20, "font": "Liberation Sans", "color": "#111"},
     "encoding": {
       "x": {"datum": 1000000, "type": "quantitative", "title": "CFSE detection channel",
         "scale": {"type": "symlog", "constant": 0.5, "domain": [0, 1000000], "nice": false, "zero": false},
         "axis": {"values": [0,1,2,3,4,5,6,7,8,9,10,20,30,40,50,60,70,80,90,100,200,300,400,500,600,700,800,900,1000,2000,3000,4000,5000,6000,7000,8000,9000,10000,20000,30000,40000,50000,60000,70000,80000,90000,100000,200000,300000,400000,500000,600000,700000,800000,900000,1000000],
           "labelExpr": "datum.value==0?'0':datum.value==10?'10¹':datum.value==100?'10²':datum.value==1000?'10³':datum.value==10000?'10⁴':datum.value==100000?'10⁵':datum.value==1000000?'10⁶':''",
           "tickSize": {"condition": {"test": "datum.value==0||datum.value==10||datum.value==100||datum.value==1000||datum.value==10000||datum.value==100000||datum.value==1000000", "value": 8}, "value": 4}}},
       "y": {"datum": 840, "type": "quantitative", "title": "Count",
         "scale": {"domain": [0, 840], "nice": false},
         "axis": {"values": [0,100,200,300,400,500,600,700,800], "labelExpr": "datum.value==0||datum.value==500?datum.label:''"}},
       "text": {"field": "t"}}}
  ]
}
]
}
